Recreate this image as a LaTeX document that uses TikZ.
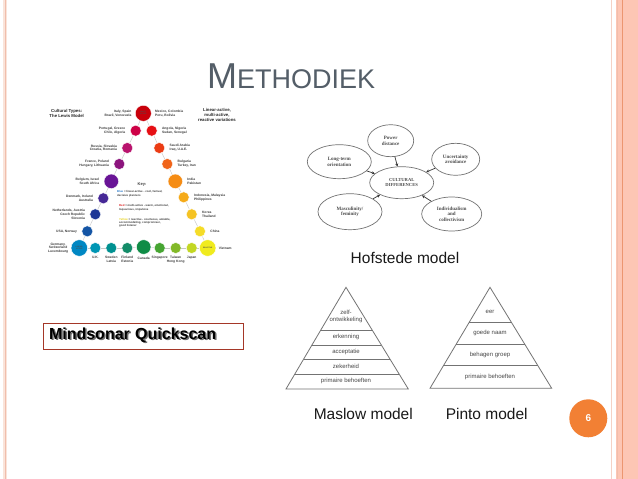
\documentclass[tikz,border=0pt]{standalone}
\usepackage{fontspec}
\setmainfont{Liberation Sans}
\newfontfamily\hofserif{Liberation Serif}
\usepackage{xcolor}
\usepackage{tikz}
\usetikzlibrary{arrows.meta, positioning, calc, shapes.geometric}
\definecolor{TitleGray}{RGB}{84, 94, 104}
\definecolor{EdgeSalmon}{RGB}{240, 190, 172}
\definecolor{EdgePale}{RGB}{250, 228, 218}
\definecolor{StripeSalmon}{RGB}{253, 198, 180}
\definecolor{StripeLine}{RGB}{236, 150, 112}
\definecolor{PageOrange}{RGB}{242, 128, 52}
\definecolor{BoxRed}{RGB}{165, 55, 40}
\definecolor{ShadowGray}{RGB}{110, 110, 110}
\definecolor{LineGray}{RGB}{115, 115, 115}
\definecolor{TextGray}{RGB}{70, 70, 70}
\definecolor{LewisText}{RGB}{60, 60, 60}
\definecolor{KeyBlue}{RGB}{40, 120, 200}
\definecolor{KeyRed}{RGB}{220, 30, 30}
\definecolor{KeyYellow}{RGB}{230, 210, 30}

\newcommand{\fsz}[2]{\fontsize{#1pt}{#2pt}\selectfont}
\newcommand{\shadowtxt}[1]{\makebox[0pt][l]{\hspace{1.5pt}\raisebox{-1.5pt}{\textcolor{ShadowGray}{#1}}}#1}

\begin{document}
\begin{tikzpicture}[x=1pt, y=-1pt,
  lewisdot/.style={circle, inner sep=0pt, draw=white, line width=0.4pt},
  dottxt/.style={font=\fsz{1.8}{2.1}\bfseries, text=black!70, align=center, inner sep=0pt},
  lewisline/.style={draw=gray!45, line width=0.4pt},
  lewistxt/.style={font=\fsz{3.3}{3.8}\bfseries, text=LewisText, inner sep=0.5pt},
  lewishead/.style={font=\fsz{4.3}{5}\bfseries, text=black!85, align=center},
  keytxt/.style={font=\fsz{2.8}{3.3}\bfseries, text=LewisText, align=left, anchor=north west, inner sep=0pt},
  hofell/.style={ellipse, draw=LineGray, line width=0.7pt, fill=white, inner sep=0pt,
    align=center, font=\hofserif\bfseries\fsz{5}{5.6}, text=black!70},
  hofarrow/.style={-{Stealth[length=3pt, width=3pt]}, line width=0.7pt, black!80},
  pyrline/.style={draw=LineGray, line width=0.8pt},
  pyrtxt/.style={font=\fsz{6}{6.8}, text=TextGray, align=center},
  caption/.style={font=\fsz{15.5}{17}, text=black!90}
]
\useasboundingbox (0,0) rectangle (638,479);
\fill[white] (0,0) rectangle (638,479);

% slide edges
\fill[EdgePale] (2.5,0) rectangle (7,479);
\draw[EdgeSalmon, line width=1.6pt] (5.5,0) -- (5.5,479);
\fill[StripeSalmon] (616,0) rectangle (638,479);
\draw[EdgeSalmon!70, line width=1.3pt] (611.3,0) -- (611.3,479);
\draw[EdgeSalmon, line width=1pt] (617,0) -- (617,479);
\draw[StripeLine, line width=1pt] (622.7,0) -- (622.7,479);

\node[anchor=base west, inner sep=0pt, text=TitleGray] (title) at (207,88)
  {\fsz{36}{36}M\fsz{27}{27}ETHODIEK};

% Lewis model
\foreach \n/\x/\y/\s/\r/\g/\b in {
  top/143.3/113.3/16/200/0/10,
  l1/135.7/130.7/11/205/0/70, l2/127.3/148/11/185/20/110, l3/119.3/164/11/140/20/125,
  l4/111.3/181.3/14.5/105/20/150, l5/103.3/198.3/11/70/40/150, l6/95.3/214.3/11/30/55/150,
  l7/87.3/231.3/11/20/85/165, bl/79.3/248/16.5/0/135/195,
  r1/151.7/130.7/11/230/15/20, r2/159.3/148/11/235/60/20, r3/167.3/164/11/240/100/25,
  r4/175.3/181.3/14.5/245/140/20, r5/183.7/197.3/11/245/170/25, r6/191.7/214.3/11/245/195/35,
  r7/200/231.3/11/245/220/40, br/207.7/248/16.5/240/235/30,
  b1/95.3/248/11/0/150/180, b2/111.3/248/11/0/145/145, b3/127.3/248/11/20/140/105,
  b4/143.7/247/14.5/15/140/70, b5/159.7/248/11/70/165/50, b6/175.7/248/11/130/185/40,
  b7/191.7/248/11/195/215/35}
{
  \definecolor{dotfill}{RGB}{\r,\g,\b}
  \node[lewisdot, fill=dotfill, minimum size=\s pt] (\n) at (\x,\y) {};
}
\foreach \a/\b in {top/l1, l1/l2, l2/l3, l3/l4, l4/l5, l5/l6, l6/l7, l7/bl,
  bl/b1, b1/b2, b2/b3, b3/b4, b4/b5, b5/b6, b6/b7, b7/br,
  br/r7, r7/r6, r6/r5, r5/r4, r4/r3, r3/r2, r2/r1, r1/top}
  \draw[lewisline] (\a) -- (\b);

\node[dottxt] (toptxt) at (top) {MULTI-\\ACTIVE};
\node[dottxt] (bltxt) at (bl) {LINEAR-\\ACTIVE};
\node[dottxt] (brtxt) at (br) {REACTIVE};

\node[lewistxt, align=right, left=3pt of top] (toplt) {Italy, Spain\\Brazil, Venezuela};
\node[lewistxt, align=left, right=3pt of top] (toprt) {Mexico, Colombia\\Peru, Bolivia};
\node[lewistxt, align=right, left=4pt of l1] (l1txt) {Portugal, Greece\\Chile, Algeria};
\node[lewistxt, align=right, left=4pt of l2] (l2txt) {Russia, Slovakia\\Croatia, Romania};
\node[lewistxt, align=right, left=4pt of l3] (l3txt) {France, Poland\\Hungary, Lithuania};
\node[lewistxt, align=right, left=4pt of l4] (l4txt) {Belgium, Israel\\South Africa};
\node[lewistxt, align=right, left=4pt of l5] (l5txt) {Denmark, Ireland\\Australia};
\node[lewistxt, align=right, left=4pt of l6] (l6txt) {Netherlands, Austria\\Czech Republic\\Slovenia};
\node[lewistxt, align=right, left=4pt of l7] (l7txt) {USA, Norway};
\node[lewistxt, align=center, left=2pt of bl] (bltxt2) {Germany,\\Switzerland\\Luxembourg};
\node[lewistxt, align=left, right=4pt of r1] (r1txt) {Angola, Nigeria\\Sudan, Senegal};
\node[lewistxt, align=left, right=4pt of r2] (r2txt) {Saudi Arabia\\Iraq, U.A.E.};
\node[lewistxt, align=left, right=4pt of r3] (r3txt) {Bulgaria\\Turkey, Iran};
\node[lewistxt, align=left, right=4pt of r4] (r4txt) {India\\Pakistan};
\node[lewistxt, align=left, right=4pt of r5] (r5txt) {Indonesia, Malaysia\\Philippines};
\node[lewistxt, align=left, right=4pt of r6] (r6txt) {Korea\\Thailand};
\node[lewistxt, align=left, right=4pt of r7] (r7txt) {China};
\node[lewistxt, align=left, right=2pt of br] (brtxt2) {Vietnam};
\node[lewistxt, align=center, below=1.5pt of b1] (b1txt) {U.K.};
\node[lewistxt, align=center, below=1.5pt of b2] (b2txt) {Sweden\\Latvia};
\node[lewistxt, align=center, below=1.5pt of b3] (b3txt) {Finland\\Estonia};
\node[lewistxt, align=center, below=1.5pt of b4] (b4txt) {Canada};
\node[lewistxt, align=center, below=1.5pt of b5] (b5txt) {Singapore};
\node[lewistxt, align=center, below=1.5pt of b6] (b6txt) {Taiwan\\Hong Kong};
\node[lewistxt, align=center, below=1.5pt of b7] (b7txt) {Japan};

\node[lewishead] (lewistitle) at (66.7,113.3) {Cultural Types:\\The Lewis Model};
\node[lewishead] (lewisvar) at (217,115) {Linear-active,\\multi-active,\\reactive variations};

\node[font=\fsz{4}{4.5}\bfseries, text=LewisText] (key) at (142,185) {Key:};
\node[keytxt] (keyblue) at (117,190.5)
  {\textcolor{KeyBlue}{Blue} = linear-active - cool, factual,\\decisive planners};
\node[keytxt] (keyred) at (119,204.5)
  {\textcolor{KeyRed}{Red} = multi-active - warm, emotional,\\loquacious, impulsive};
\node[keytxt] (keyyellow) at (119,218)
  {\textcolor{KeyYellow}{Yellow} = reactive - courteous, amiable,\\accommodating, compromiser,\\good listener};

% Hofstede model
\node[hofell, minimum width=46pt, minimum height=32pt] (power) at (390.7,140.7) {Power\\distance};
\node[hofell, minimum width=48pt, minimum height=32pt] (uncert) at (455.7,159.3) {Uncertainty\\avoidance};
\node[hofell, minimum width=64pt, minimum height=34pt] (longterm) at (339.3,161.7) {Long-term\\orientation};
\node[hofell, minimum width=64pt, minimum height=32pt, font=\hofserif\bfseries\fsz{4.6}{5.4}] (cultdiff) at (401.7,182.7) {CULTURAL\\DIFFERENCES};
\node[hofell, minimum width=64pt, minimum height=36pt] (mascfem) at (350,211.7) {Masculinity/\\feminity};
\node[hofell, minimum width=60pt, minimum height=34pt] (indcoll) at (451.7,214) {Individualism\\and\\collectivism};
\foreach \d in {power, uncert, longterm, mascfem, indcoll}
  \draw[hofarrow] (\d) -- (cultdiff);
\node[caption] (hofcap) at (405,258.3) {Hofstede model};

% Maslow pyramid
\coordinate (maslowtop) at (346,287.3);
\coordinate (maslowleft) at (286,389);
\coordinate (maslowright) at (408.3,389);
\draw[pyrline] (maslowtop) -- (maslowleft) -- (maslowright) -- cycle;
\foreach \t in {0.42, 0.567, 0.708, 0.853}
  \draw[pyrline] ($(maslowtop)!\t!(maslowleft)$) -- ($(maslowtop)!\t!(maslowright)$);
\node[pyrtxt] (zelf) at (346,316.7) {zelf-\\ontwikkeling};
\node[pyrtxt] (erkenning) at (346,337.3) {erkenning};
\node[pyrtxt] (acceptatie) at (346,351.7) {acceptatie};
\node[pyrtxt] (zekerheid) at (346,366) {zekerheid};
\node[pyrtxt] (maslowbase) at (346,380.7) {primaire behoeften};
\node[caption] (maslowcap) at (363.3,414) {Maslow model};

% Pinto pyramid
\coordinate (pintotop) at (490,287.3);
\coordinate (pintoleft) at (430,388.3);
\coordinate (pintoright) at (551.7,388.3);
\draw[pyrline] (pintotop) -- (pintoleft) -- (pintoright) -- cycle;
\foreach \t in {0.35, 0.561, 0.776}
  \draw[pyrline] ($(pintotop)!\t!(pintoleft)$) -- ($(pintotop)!\t!(pintoright)$);
\node[pyrtxt] (eer) at (490,312.3) {eer};
\node[pyrtxt] (goedenaam) at (490,333.3) {goede naam};
\node[pyrtxt] (behagen) at (490,354.7) {behagen groep};
\node[pyrtxt] (pintobase) at (490,376.7) {primaire behoeften};
\node[caption] (pintocap) at (486.7,414) {Pinto model};

% Mindsonar
\node[draw=BoxRed, line width=1pt, minimum width=200pt, minimum height=26pt,
  text width=188pt, align=left, inner sep=0pt, font=\fsz{16}{16}\bfseries]
  (mindsonar) at (143,336) {\shadowtxt{Mindsonar Quickscan}};

\node[circle, fill=PageOrange, minimum size=38pt, inner sep=0pt, text=white,
  font=\fsz{10}{10}\bfseries] (pagenr) at (588.3,418.3) {6};
\end{tikzpicture}
\end{document}
